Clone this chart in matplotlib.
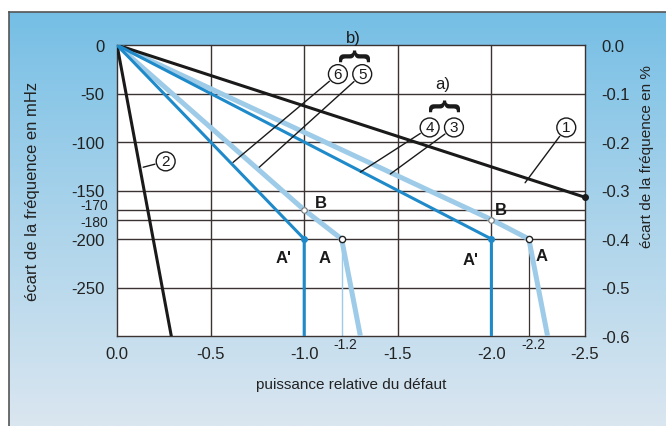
import numpy as np
import matplotlib.pyplot as plt

plt.rcParams['font.family'] = ['Liberation Sans Narrow', 'Liberation Sans', 'DejaVu Sans']

# puissance relative du défaut (x) / écart de fréquence en mHz (y)
x_c1 = [0.0, -2.5]
y_c1 = [0, -157]
x_c2 = [0.0, -0.29]
y_c2 = [0, -300]
# b) courbes 5 et 6
x_c5 = [0.0, -1.0, -1.2, -1.3]
y_c5 = [0, -170, -200, -300]
x_c6 = [0.0, -1.0, -1.0]
y_c6 = [0, -200, -300]
# a) courbes 3 et 4
x_c3 = [0.0, -2.0, -2.2, -2.3]
y_c3 = [0, -180, -200, -300]
x_c4 = [0.0, -2.0, -2.0]
y_c4 = [0, -200, -300]

x_ticks = [0.0, -0.5, -1.0, -1.5, -2.0, -2.5]
y_main = [0, -50, -100, -150, -200, -250]
y_minor = [-170, -180]
pct_ticks = [0.0, -0.1, -0.2, -0.3, -0.4, -0.5, -0.6]

dark = '#1f8ac9'
light = '#9dcbe8'
grid_c = '#3b3232'

fig = plt.figure(figsize=(6.66, 4.27), dpi=100)

# fond dégradé bleu
bg = fig.add_axes([9/666, 0, 1 - 9/666, 1 - 13/427], zorder=-10)
grad = np.linspace(0, 1, 256).reshape(-1, 1)
top = np.array([116, 190, 229]) / 255
bot = np.array([218, 230, 240]) / 255
img = top + (bot - top) * grad[..., None] ** 0.9
bg.imshow(img.reshape(256, 1, 3), aspect='auto', extent=[0, 1, 0, 1])
bg.set_xticks([])
bg.set_yticks([])
for s in ['left', 'top']:
    bg.spines[s].set_color('#555555')
    bg.spines[s].set_linewidth(1.2)
for s in ['right', 'bottom']:
    bg.spines[s].set_visible(False)

ax = fig.add_axes([117/666, 1 - 337/427, 468/666, 291/427])
ax.set_facecolor('white')
ax.set_xlim(0, -2.5)
ax.set_ylim(-300, 0)

for xv in [-0.5, -1.0, -1.5, -2.0]:
    ax.axvline(xv, color=grid_c, lw=1.0, zorder=1)
for yv in y_main[1:] + y_minor:
    ax.axhline(yv, color=grid_c, lw=1.0, zorder=1)
ax.plot([-1.2, -1.2], [-200, -300], color=light, lw=1.0, zorder=1)
ax.plot([-2.2, -2.2], [-200, -300], color=grid_c, lw=0.9, zorder=1)
for s in ax.spines.values():
    s.set_color(grid_c)
    s.set_linewidth(1.0)

ax.plot(x_c2, y_c2, color='#1a1a1a', lw=2.2, zorder=4)
ax.plot(x_c1, y_c1, color='#1a1a1a', lw=2.2, zorder=4)
ax.plot(x_c1[-1], y_c1[-1], 'o', color='#1a1a1a', ms=4, zorder=6, clip_on=False)
ax.plot(x_c5, y_c5, color=light, lw=3.6, zorder=3, solid_capstyle='butt')
ax.plot(x_c3, y_c3, color=light, lw=3.6, zorder=3, solid_capstyle='butt')
ax.plot(x_c6, y_c6, color=dark, lw=2.2, zorder=4)
ax.plot(x_c4, y_c4, color=dark, lw=2.2, zorder=4)

# points A, B, A'
ax.plot([x_c5[1], x_c3[1]], [y_c5[1], y_c3[1]], 'o', ms=4, mfc='white', mec='#777777', mew=0.8, zorder=6)
ax.plot([x_c5[2], x_c3[2]], [y_c5[2], y_c3[2]], 'o', ms=4.5, mfc='white', mec='#222222', mew=1.0, zorder=6)
ax.plot([x_c6[1], x_c4[1]], [y_c6[1], y_c4[1]], 'o', ms=4, color=dark, zorder=6)

bold = dict(fontsize=12, fontweight='bold', color='#1a1a1a', ha='center', va='center')
ax.text(-1.09, -162, 'B', **bold)
ax.text(-2.05, -170, 'B', **bold)
ax.text(-0.89, -219, "A'", **bold)
ax.text(-1.11, -219, 'A', **bold)
ax.text(-1.89, -221, "A'", **bold)
ax.text(-2.27, -217, 'A', **bold)

# étiquettes cerclées et traits de rappel
circ = dict(fontsize=11, color='#1a1a1a', ha='center', va='center',
            bbox=dict(boxstyle='circle,pad=0.16', fc='white', ec='#1a1a1a', lw=1.0))
leaders = [
    ('1', (-2.40, -85), (-2.18, -142)),
    ('2', (-0.26, -120), (-0.14, -126)),
    ('3', (-1.80, -85), (-1.46, -133)),
    ('4', (-1.67, -85), (-1.30, -131)),
    ('5', (-1.31, -30), (-0.76, -126)),
    ('6', (-1.18, -30), (-0.62, -121)),
]
for lab, (xc, yc), (xe, ye) in leaders:
    ax.annotate('', xy=(xe, ye), xytext=(xc, yc),
                arrowprops=dict(arrowstyle='-', color='#1a1a1a', lw=1.0,
                                shrinkA=8, shrinkB=0), zorder=5)
    ax.text(xc, yc, lab, zorder=7, **circ)

ax.text(-1.74, -40, 'a)', fontsize=12, color='#1a1a1a', ha='center', va='center')
ax.text(-1.74, -61, '{', rotation=-90, fontsize=24, fontweight='bold',
        color='#1a1a1a', ha='center', va='center')
ax.text(-1.26, 8, 'b)', fontsize=12, color='#1a1a1a', ha='center', va='center', clip_on=False)
ax.text(-1.26, -10, '{', rotation=-90, fontsize=24, fontweight='bold',
        color='#1a1a1a', ha='center', va='center', clip_on=False)

# axes
ax.set_xticks(x_ticks)
ax.set_xticklabels([f'{v:.1f}' for v in x_ticks], fontsize=12, color='#222222')
ax.tick_params(axis='x', length=0, pad=7)
ax.set_yticks(y_main)
ax.set_yticklabels([str(v) for v in y_main], fontsize=12, color='#222222')
ax.tick_params(axis='y', length=0, pad=9)
ax.text(0.05, -165, '-170', fontsize=10, color='#222222', ha='right', va='center')
ax.text(0.05, -182, '-180', fontsize=10, color='#222222', ha='right', va='center')
ax.text(-1.222, -301, '-1.2', fontsize=10, color='#222222', ha='center', va='top', clip_on=False)
ax.text(-2.225, -301, '-2.2', fontsize=10, color='#222222', ha='center', va='top', clip_on=False)

ax.set_xlabel('puissance relative du défaut', fontsize=11, color='#222222', labelpad=12)
ax.set_ylabel('écart de la fréquence en mHz', fontsize=12, color='#222222')
ax.yaxis.set_label_coords(-0.165, 0.5)

ax2 = ax.twinx()
ax2.set_ylim(-0.6, 0.0)
ax2.set_yticks(pct_ticks)
ax2.set_yticklabels([f'{v:.1f}' for v in pct_ticks], fontsize=12, color='#222222')
ax2.tick_params(axis='y', length=0, pad=12)
ax2.set_ylabel('écart de la fréquence en %', fontsize=11, color='#222222')
ax2.yaxis.set_label_coords(1.1175, 0.62)
for s in ax2.spines.values():
    s.set_visible(False)

fig.savefig('out.png', dpi=100)
